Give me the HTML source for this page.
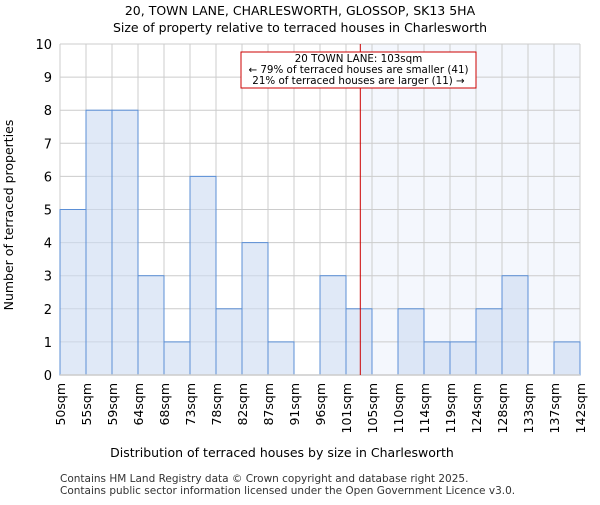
<!DOCTYPE html>
<html><head><meta charset="utf-8"><style>
body{margin:0;background:#fff;}
svg{font-family:"DejaVu Sans","Liberation Sans",sans-serif;}
</style></head><body>
<svg id="c" width="600" height="500">
<text x="300" y="15" text-anchor="middle" font-size="12.5">20, TOWN LANE, CHARLESWORTH, GLOSSOP, SK13 5HA</text>
<text x="300" y="32" text-anchor="middle" font-size="12.5">Size of property relative to terraced houses in Charlesworth</text>
<text x="282" y="457" text-anchor="middle" font-size="12.5">Distribution of terraced houses by size in Charlesworth</text>
<text transform="translate(13,215) rotate(-90)" text-anchor="middle" font-size="12.5">Number of terraced properties</text>
<text x="60" y="482" font-size="10.5" fill="#333">Contains HM Land Registry data © Crown copyright and database right 2025.</text>
<text x="60" y="494" font-size="10.5" fill="#333">Contains public sector information licensed under the Open Government Licence v3.0.</text>
<g id="plot"></g>
</svg>
<script>
const labels=["50sqm","55sqm","59sqm","64sqm","68sqm","73sqm","78sqm","82sqm","87sqm","91sqm","96sqm","101sqm","105sqm","110sqm","114sqm","119sqm","124sqm","128sqm","133sqm","137sqm","142sqm"];
const counts=[5,8,8,3,1,6,2,4,1,0,3,2,0,2,1,1,2,3,0,1];
const yTicks=[0,1,2,3,4,5,6,7,8,9,10];
const marker=11.55; // bin-index position of 103sqm
const NS="http://www.w3.org/2000/svg";
const g=document.getElementById('plot');
const X0=60,X1=580,Y0=375,Y1=44;
const bw=(X1-X0)/counts.length;
const x=i=>X0+i*bw;
const y=v=>Y0-(v/10)*(Y0-Y1);
function mk(t,a){const e=document.createElementNS(NS,t);for(const k in a)e.setAttribute(k,a[k]);g.appendChild(e);return e;}
let e=mk('rect',{x:x(marker),y:Y1,width:X1-x(marker),height:Y0-Y1,fill:'#f4f7fd'});


yTicks.forEach(v=>{
 let l=mk('line',{x1:X0,x2:X1,y1:y(v),y2:y(v),stroke:'#cccccc','stroke-width':1});
 
 
 let t=mk('text',{x:X0-8,y:y(v)+5,'text-anchor':'end','font-size':13});
 t.textContent=v;
 
 
});
labels.forEach((s,i)=>{
 let l=mk('line',{x1:x(i),x2:x(i),y1:Y1,y2:Y0,stroke:'#cccccc','stroke-width':1});
 
 
 let t=mk('text',{transform:`translate(${x(i)+5},${Y0+8}) rotate(-90)`,'text-anchor':'end','font-size':12.5});
 t.textContent=s;
 
 
});
counts.forEach((v,i)=>{
 if(v<=0)return;
 let r=mk('rect',{x:x(i),y:y(v),width:bw,height:Y0-y(v),fill:'rgba(204,219,242,0.6)',stroke:'#5b8fd6','stroke-width':1});
 
 
});
let ax=mk('line',{x1:X0,x2:X1,y1:Y0,y2:Y0,stroke:'#cccccc','stroke-width':1.5});


let ml=mk('line',{x1:x(marker),x2:x(marker),y1:Y1,y2:Y0,stroke:'#cc0000','stroke-width':1});


let box=mk('rect',{x:241,y:52,width:235,height:36,fill:'#fff',stroke:'#cc0000','stroke-width':1});


["20 TOWN LANE: 103sqm","← 79% of terraced houses are smaller (41)","21% of terraced houses are larger (11) →"].forEach((s,i)=>{
 let t=mk('text',{x:358.5,y:62+i*11,'text-anchor':'middle','font-size':10.3});
 t.textContent=s;
 
 
});
</script>
</body></html>
